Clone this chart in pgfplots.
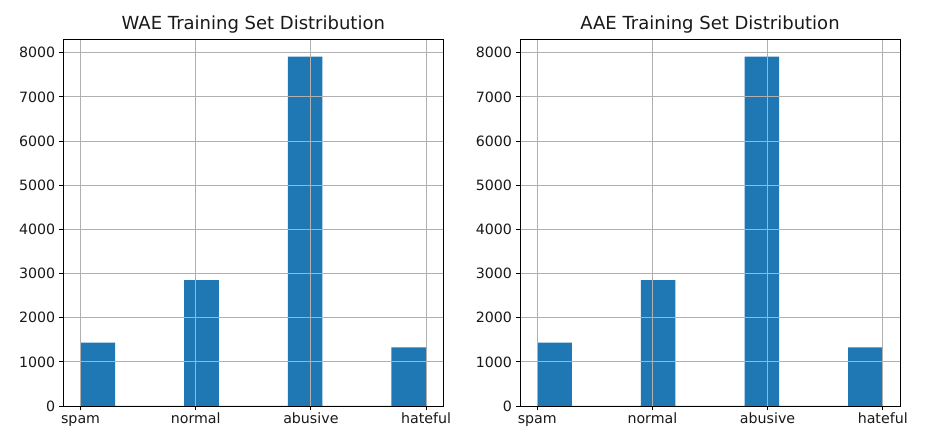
\documentclass[border=0pt]{standalone}
\usepackage{fontspec}
\setmainfont{DejaVu Sans}
\usepackage{pgfplots}
\pgfplotsset{compat=1.18}
\definecolor{mplblue}{HTML}{1F77B4}
\definecolor{gridgray}{HTML}{B0B0B0}
\pgfplotsset{
  histax/.style={
    scale only axis,
    width=380pt, height=366.7pt,
    xmin=-0.15, xmax=3.15,
    ymin=0, ymax=8305,
    axis on top,
    xtick={0,1,2,3},
    xticklabels={spam,normal,abusive,hateful},
    ytick={0,1000,...,8000},
    grid=major,
    major grid style={gridgray, line width=0.9pt},
    axis line style={black, line width=0.9pt},
    tick align=outside,
    xtick pos=lower, ytick pos=left,
    major tick length=4.5pt,
    major tick style={black, line width=0.9pt},
    tick label style={font=\fontsize{14.2}{16}\selectfont, text=black!90},
    xticklabel style={text height=10.5pt, text depth=3pt, inner sep=2pt},
    /pgf/number format/assume math mode=true,
    /pgf/number format/1000 sep={},
    title style={font=\fontsize{18}{21}\selectfont, text=black!90, at={(0.5,1)}, anchor=base, yshift=4pt},
  }
}
\begin{document}
\begin{tikzpicture}[x=1pt,y=1pt]
\path[fill=white] (0,0) rectangle (932,443);
\begin{axis}[histax, at={(63.3pt,37pt)}, anchor=south west,
  title={WAE Training Set Distribution}]
\addplot[ybar interval, fill=mplblue, draw=none] coordinates {
(0,1433) (0.3,0) (0.6,0) (0.9,2853) (1.2,0) (1.5,0) (1.8,7910) (2.1,0) (2.4,0) (2.7,1329) (3.0,0)};
\end{axis}
\begin{axis}[histax, at={(520pt,37pt)}, anchor=south west,
  title={AAE Training Set Distribution}]
\addplot[ybar interval, fill=mplblue, draw=none] coordinates {
(0,1433) (0.3,0) (0.6,0) (0.9,2853) (1.2,0) (1.5,0) (1.8,7910) (2.1,0) (2.4,0) (2.7,1329) (3.0,0)};
\end{axis}
\end{tikzpicture}
\end{document}
